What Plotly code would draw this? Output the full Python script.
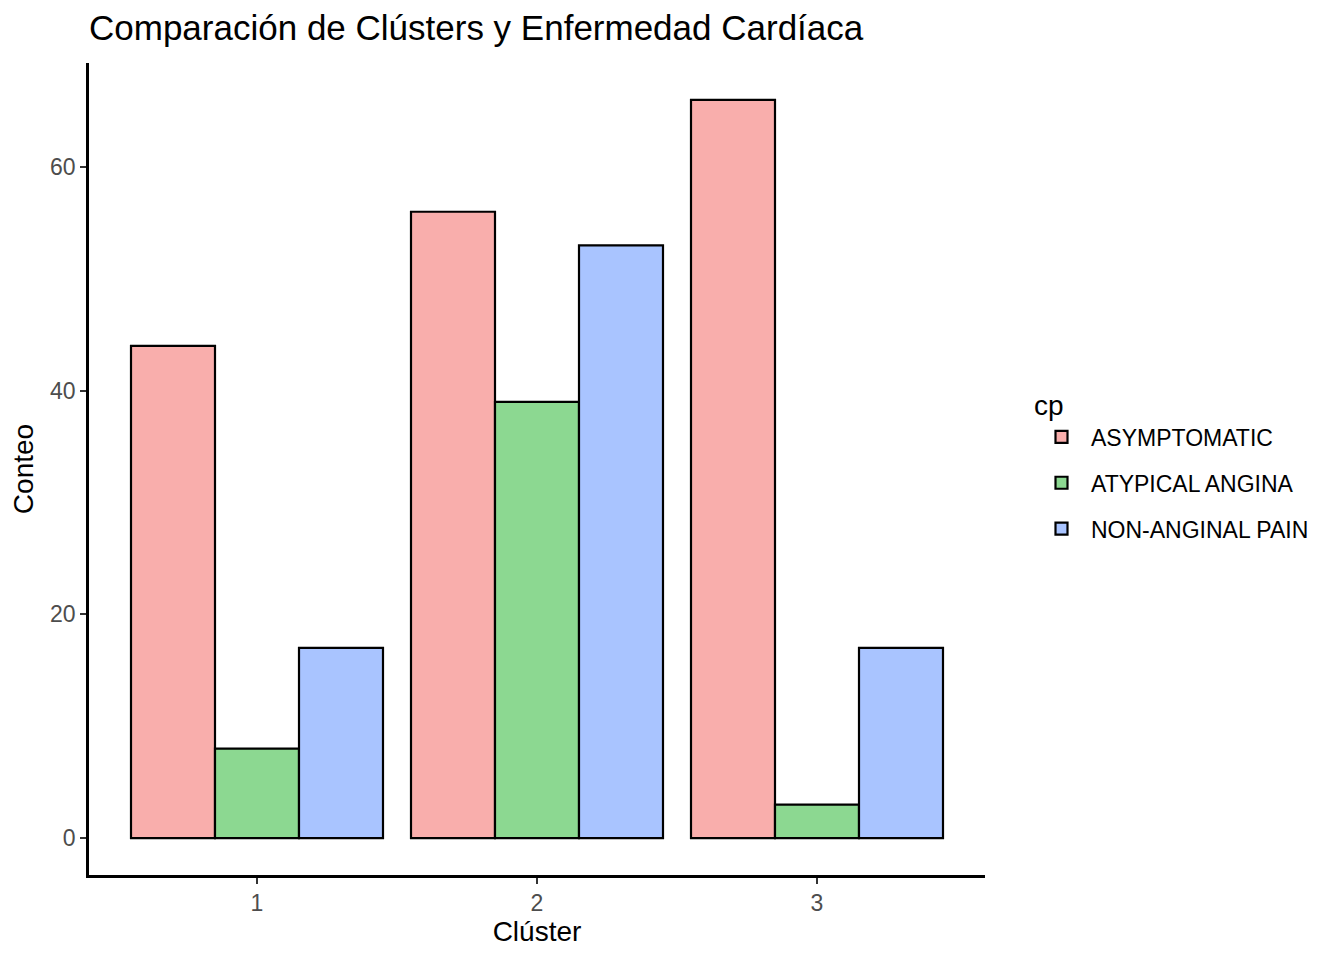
import plotly.graph_objects as go

clusters = [1, 2, 3]
cp_types = ["ASYMPTOMATIC", "ATYPICAL ANGINA", "NON-ANGINAL PAIN"]
counts = {
    "ASYMPTOMATIC": [44, 56, 66],
    "ATYPICAL ANGINA": [8, 39, 3],
    "NON-ANGINAL PAIN": [17, 53, 17],
}
colors = {
    "ASYMPTOMATIC": "#F9AEAC",
    "ATYPICAL ANGINA": "#8CD891",
    "NON-ANGINAL PAIN": "#A9C4FF",
}
y_ticks = [0, 20, 40, 60]

FONT = "Liberation Sans, Arial, sans-serif"

fig = go.Figure()
for cp in cp_types:
    fig.add_trace(go.Bar(
        x=clusters, y=counts[cp], name=cp, legendgroup=cp,
        marker=dict(color=colors[cp], line=dict(color="black", width=2.2)),
    ))

W, H = 1344, 960
# page has an 8px body margin; compensate so plot area sits at 89..985 x 63..875 on screen
L, T = 81, 55
PW, PH = 896, 812
R, B = W - L - PW, H - T - PH

fig.update_layout(
    width=W, height=H,
    barmode="group", bargap=0.1, bargroupgap=0,
    plot_bgcolor="white", paper_bgcolor="white",
    margin=dict(l=L, r=R, t=T, b=B, autoexpand=False),
    font=dict(family=FONT, color="black"),
    title=dict(text="Comparación de Clústers y Enfermedad Cardíaca",
               x=L / W, xanchor="left", xref="container",
               y=1 - 20 / H, yanchor="middle",
               font=dict(size=35, color="black")),
    xaxis=dict(range=[0.4, 3.6], tickmode="array", tickvals=clusters,
               ticktext=[str(c) for c in clusters],
               showline=True, linecolor="black", linewidth=2.5,
               ticks="outside", ticklen=6, tickwidth=2, tickcolor="#333333",
               tickfont=dict(size=23, color="#4D4D4D"),
               showgrid=False, zeroline=False,
               title=dict(text="Clúster", font=dict(size=28, color="black"), standoff=6)),
    yaxis=dict(range=[-3.3, 69.3], tickmode="array", tickvals=y_ticks,
               showline=True, linecolor="black", linewidth=2.5,
               ticks="outside", ticklen=6, tickwidth=2, tickcolor="#333333",
               tickfont=dict(size=23, color="#4D4D4D"),
               showgrid=False, zeroline=False,
               title=dict(text="Conteo", font=dict(size=28, color="black"), standoff=10)),
    legend=dict(x=(1032 - 8 - L) / PW, xanchor="left",
                y=(T + PH - 371) / PH, yanchor="top",
                title=dict(text="cp", font=dict(size=28, color="black")),
                font=dict(size=23, color="black"),
                tracegroupgap=13, itemwidth=49,
                bgcolor="rgba(0,0,0,0)"),
)

fig.write_html("out.html")
